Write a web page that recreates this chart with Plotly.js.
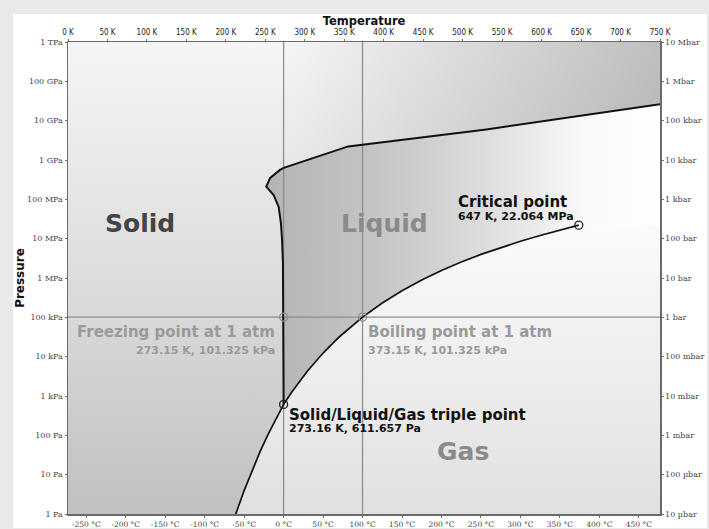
<!DOCTYPE html>
<html><head><meta charset="utf-8">
<script src="https://cdn.plot.ly/plotly-3.0.1.min.js"></script>
<style>
html,body{margin:0;padding:0;background:#e9e9e9;width:709px;height:529px;overflow:hidden;}
#chart{position:absolute;left:13px;top:14px;width:694px;height:514px;background:#fff;}
</style></head><body><div id="chart"></div>
<script>
// ---- axis ticks / labels ----
const kelvinTicks = [0,50,100,150,200,250,300,350,400,450,500,550,600,650,700,750];
const kelvinLabels = ['0 K','50 K','100 K','150 K','200 K','250 K','300 K','350 K','400 K','450 K','500 K','550 K','600 K','650 K','700 K','750 K'];
const celsiusTicks = [-250,-200,-150,-100,-50,0,50,100,150,200,250,300,350,400,450];
const celsiusLabels = ['-250 °C','-200 °C','-150 °C','-100 °C','-50 °C','0 °C','50 °C','100 °C','150 °C','200 °C','250 °C','300 °C','350 °C','400 °C','450 °C'];
const pressureTicks = [1,10,100,1e3,1e4,1e5,1e6,1e7,1e8,1e9,1e10,1e11,1e12];
const pascalLabels = ['1 Pa','10 Pa','100 Pa','1 kPa','10 kPa','100 kPa','1 MPa','10 MPa','100 MPa','1 GPa','10 GPa','100 GPa','1 TPa'];
const barLabels = ['10 µbar','100 µbar','1 mbar','10 mbar','100 mbar','1 bar','10 bar','100 bar','1 kbar','10 kbar','100 kbar','1 Mbar','10 Mbar'];

// ---- axis limits ----
const tRange = [0, 750];       // K
const pRange = [1, 1e12];      // Pa

// ---- phase boundaries (T in K, P in Pa) ----
// melting curve from triple point upward, then solid/liquid boundary at high pressure
const meltT = [273.16, 273.15, 272.3, 271.2, 269.8, 266.9, 260.5, 251.165, 256.164, 268.6, 273.31, 355.0, 530.0, 750.0];
const meltP = [611.657, 101325, 2.4e6, 9.2e6, 2.45e7, 6.4e7, 1.29e8, 2.099e8, 3.501e8, 5.6e8, 6.324e8, 2.216e9, 6.0e9, 2.6e10];
// sublimation curve from triple point downward
const sublT = [273.16, 263.15, 253.15, 243.15, 233.15, 223.15, 213.15, 212.4];
const sublP = [611.657, 259.9, 103.3, 38.0, 12.84, 3.94, 1.08, 1.0];
// vaporization curve triple point -> critical point
const boilT = [273.16, 283.15, 293.15, 303.15, 323.15, 343.15, 373.15, 398.15, 423.15, 448.15, 473.15, 498.15, 523.15, 548.15, 573.15, 598.15, 623.15, 647.096];
const boilP = [611.657, 1228, 2339, 4247, 12352, 31202, 101325, 232200, 476200, 892600, 1554900, 2550000, 3976000, 5942000, 8588000, 12047000, 16529000, 22064000];

// ---- special points ----
const triplePoint = [273.16, 611.657];
const criticalPoint = [647.096, 22.064e6];
const freezingPoint = [273.15, 101325];
const boilingPoint = [373.15, 101325];
const bandStartIndex = 10; // ice V/VI/liquid point on meltT

const rev = a => a.slice().reverse();
const T0 = tRange[0], T1 = tRange[1], P0 = pRange[0], P1 = pRange[1];

function fillTrace(x, y, grad, color) {
  return {type:'scatter', x:x, y:y, mode:'lines', line:{width:0, color:'rgba(0,0,0,0)'},
          fill:'toself', fillcolor:color, fillgradient:grad, hoverinfo:'skip'};
}

const solid = fillTrace(
  [T0, T0, T1].concat(rev(meltT), sublT.slice(1)),
  [P0, P1, P1].concat(rev(meltP), sublP.slice(1)),
  {type:'vertical', colorscale:[[0,'#c0c0c0'],[0.5,'#dddddd'],[1,'#f5f5f5']]}, '#dddddd');

const band = fillTrace(
  meltT.slice(bandStartIndex).concat([T1, meltT[bandStartIndex]]),
  meltP.slice(bandStartIndex).concat([P1, P1]),
  {type:'horizontal', colorscale:[[0,'rgba(0,0,0,0)'],[1,'rgba(0,0,0,0.22)']]}, 'rgba(0,0,0,0.1)');

const liquid = fillTrace(
  boilT.concat([T1], rev(meltT)),
  boilP.concat([criticalPoint[1]], rev(meltP)),
  {type:'horizontal', colorscale:[[0,'#b4b4b4'],[0.3,'#c6c6c6'],[0.55,'#dcdcdc'],[0.8,'#f8f8f8'],[1,'#ffffff']]}, '#cccccc');

const gas = fillTrace(
  rev(sublT).concat(boilT.slice(1), [T1, T1]),
  rev(sublP).concat(boilP.slice(1), [criticalPoint[1], P0]),
  {type:'vertical', colorscale:[[0,'#e0e0e0'],[1,'#fbfbfb']]}, '#eeeeee');

const refColor = '#8e8e8e';
const refLines = [
  {x:[freezingPoint[0], freezingPoint[0]], y:[P0, P1]},
  {x:[boilingPoint[0], boilingPoint[0]], y:[P0, P1]},
  {x:[T0, T1], y:[freezingPoint[1], boilingPoint[1]]}
].map(d => ({type:'scatter', mode:'lines', x:d.x, y:d.y, line:{color:refColor, width:1.3}, hoverinfo:'skip'}));

const meltLine = {type:'scatter', mode:'lines', x:meltT, y:meltP, line:{color:'#111', width:2}, hoverinfo:'skip'};
const vapLine = {type:'scatter', mode:'lines', x:rev(sublT).concat(boilT.slice(1)), y:rev(sublP).concat(boilP.slice(1)), line:{color:'#111', width:1.7}, hoverinfo:'skip'};

const grayPts = {type:'scatter', mode:'markers', x:[freezingPoint[0], boilingPoint[0]], y:[freezingPoint[1], boilingPoint[1]],
  marker:{symbol:'circle-open', size:8, color:refColor, line:{width:1.3}}, hoverinfo:'skip'};
const blackPts = {type:'scatter', mode:'markers', x:[triplePoint[0]], y:[triplePoint[1]],
  marker:{symbol:'circle-open', size:8, color:'#222', line:{width:1.3}}, hoverinfo:'skip'};
const critPt = {type:'scatter', mode:'markers', x:[criticalPoint[0]], y:[criticalPoint[1]], xaxis:'x2', yaxis:'y2',
  marker:{symbol:'circle-open', size:8, color:'#222', line:{width:1.3}}, hoverinfo:'skip'};

const tickFontSerif = {family:'DejaVu Serif', size:8, color:'#444'};
const axCommon = {showgrid:false, zeroline:false, showline:true, linecolor:'#6a6a6a', linewidth:1.5,
  ticks:'outside', ticklen:2, tickcolor:'#6a6a6a', fixedrange:true, automargin:false};

function ann(text, x, y, size, color, xanchor) {
  return {text:'<b>'+text+'</b>', x:x, y:y, xref:'paper', yref:'paper', xanchor:xanchor, yanchor:'middle',
    showarrow:false, borderpad:0, font:{family:'DejaVu Sans', size:size, color:color}};
}
const px = p => (p - 68) / 592;
const py = p => (514 - p) / 472;

const layout = {
  width:694, height:514,
  margin:{l:55, r:47, t:28, b:14, pad:0},
  paper_bgcolor:'#ffffff', plot_bgcolor:'#ffffff', showlegend:false,
  xaxis: Object.assign({}, axCommon, {range:tRange, tickvals:celsiusTicks.map(c => c + 273.15), ticktext:celsiusLabels,
    tickfont:{family:'DejaVu Serif', size:7.5, color:'#444'}}),
  xaxis2: Object.assign({}, axCommon, {overlaying:'x', side:'top', anchor:'y', range:tRange, tickvals:kelvinTicks, ticktext:kelvinLabels,
    tickfont:{family:'DejaVu Sans Condensed, DejaVu Sans', size:8, color:'#222'},
    title:{text:'<b>Temperature</b>', font:{family:'DejaVu Sans', size:11.5, color:'#111'}, standoff:0}}),
  yaxis: Object.assign({}, axCommon, {type:'log', range:[0,12], tickvals:pressureTicks, ticktext:pascalLabels, tickfont:tickFontSerif,
    title:{text:'<b>Pressure</b>', font:{family:'DejaVu Sans', size:12, color:'#111'}, standoff:4}}),
  yaxis2: Object.assign({}, axCommon, {type:'log', overlaying:'y', side:'right', anchor:'x', range:[0,12], tickvals:pressureTicks, ticktext:barLabels, tickfont:tickFontSerif}),
  annotations: [
    ann('Solid', px(139.5), py(223), 25, '#444444', 'center'),
    ann('Liquid', px(384), py(223), 25, '#8a8a8a', 'center'),
    ann('Gas', px(463), py(451), 25, '#8a8a8a', 'center'),
    ann('Critical point', px(456.5), py(202.4), 15, '#111111', 'left'),
    ann('647 K, 22.064 MPa', px(456.5), py(216), 11, '#111111', 'left'),
    ann('Freezing point at 1 atm', px(275.5), py(331.7), 15, '#9a9a9a', 'right'),
    ann('273.15 K, 101.325 kPa', px(275.5), py(350.7), 11, '#9a9a9a', 'right'),
    ann('Boiling point at 1 atm', px(367), py(331.7), 15, '#9a9a9a', 'left'),
    ann('373.15 K, 101.325 kPa', px(367), py(350.7), 11, '#9a9a9a', 'left'),
    ann('Solid/Liquid/Gas triple point', px(288.3), py(415), 15, '#111111', 'left'),
    ann('273.16 K, 611.657 Pa', px(288.3), py(428.3), 11, '#111111', 'left')
  ]
};

Plotly.newPlot('chart', [solid, band, liquid, gas].concat(refLines, [meltLine, vapLine, grayPts, blackPts, critPt]), layout,
  {displayModeBar:false, staticPlot:true});
</script></body></html>
